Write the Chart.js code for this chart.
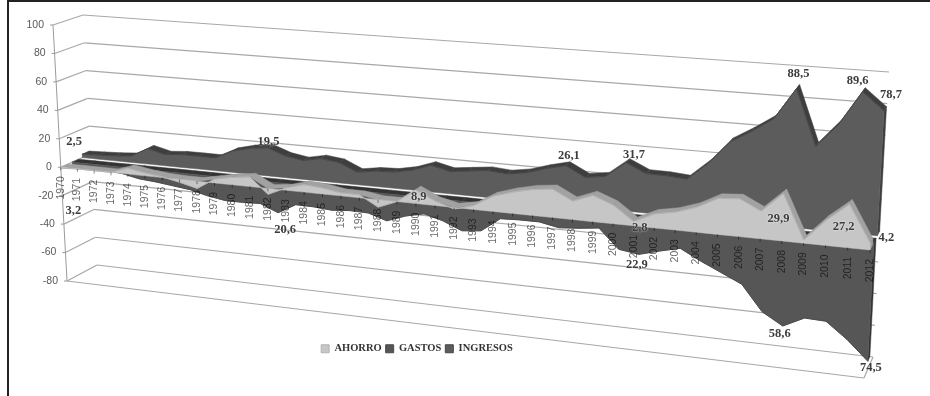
<!DOCTYPE html>
<html>
<head>
<meta charset="utf-8">
<title>Ahorro, gastos e ingresos</title>
<script src="https://cdn.jsdelivr.net/npm/chart.js@4/dist/chart.umd.min.js"></script>
<style>
    html, body { margin: 0; padding: 0; background: #fff; }
    #frame { position: absolute; left: 7px; top: 0; width: 930px; height: 400px; border-left: 2px solid #222; border-top: 2px solid #222; }
    #wrap { position: absolute; left: 0; top: 0; width: 930px; height: 396px; overflow: hidden; }
    canvas { position: absolute; left: 0; top: 0; }
</style>
</head>
<body>
<div id="wrap">
    <div id="frame"></div>
    <canvas id="areaChart" width="930" height="396"></canvas>
</div>
<script>
const years = [1970, 1971, 1972, 1973, 1974, 1975, 1976, 1977, 1978, 1979, 1980, 1981, 1982, 1983, 1984,
    1985, 1986, 1987, 1988, 1989, 1990, 1991, 1992, 1993, 1994, 1995, 1996, 1997, 1998, 1999, 2000,
    2001, 2002, 2003, 2004, 2005, 2006, 2007, 2008, 2009, 2010, 2011, 2012];
const ahorro = [-0.7, 0, 0, 0, 4, 2, 0.5, -2, -5, 2.5, 5, 6.5, -4, 1.5, 5,
    4, 2, 2, -5, 0, 8.9, 3, -1, 2.5, 10, 14, 17, 18.5, 12, 17, 12,
    2.8, 9, 11.5, 16, 23, 24, 17.5, 29.9, 2, 16, 27.2, 4.2];
const gastos = [-3.2, -3, -3.5, -4.5, -7, -8, -9.5, -11, -14, -16, -16, -15.5, -20.6, -13.8, -14,
    -15, -14, -14.3, -18.3, -13.8, -11, -14.4, -19.7, -18.4, -9, -8.5, -8.5, -11, -10, -8.5, -21,
    -22.9, -19.4, -16.2, -23, -29, -35, -51, -58.6, -52, -52.5, -62.4, -74.5];
const ingresos = [2.5, 3, 3.5, 4.5, 11, 8, 9, 9, 9, 15, 18, 19.5, 15, 13, 15.5,
    14, 8.5, 10.5, 11, 13.5, 18, 15, 16.5, 18, 17, 19, 23, 26.1, 19.5, 21.5, 31.7,
    25.7, 25.5, 24.5, 36, 51, 59, 68, 88.5, 52.7, 68, 89.6, 78.7];
const yTicks = [100, 80, 60, 40, 20, 0, -20, -40, -60, -80];

// Years that carry a value tag, per series
const ahorroTags = [1990, 2001, 2008, 2011, 2012];
const gastosTags = [1970, 1982, 2001, 2008, 2012];
const ingresosTags = [1970, 1981, 1997, 2000, 2008, 2011, 2012];

// Box corners of the plot: front wall and back wall, at the top and bottom of the value axis
const box = {
    front: {tl: [53, 25], bl: [67, 281], tr: [877.5, 90], br: [864, 378]},
    back: {tl: [83, 15], bl: [97, 265], tr: [889, 72], br: [873, 357]}
};
const foreshorten = 0.86; // years get wider towards the right end

const lerp = (a, b, t) => a + (b - a) * t;

function projectPoint(chart, px, py, depth) {
    const xs = chart.scales.x;
    const ys = chart.scales.y;
    const u0 = (px - xs.left) / xs.width;
    const u = u0 * foreshorten / ((1 - u0) + u0 * foreshorten);
    const v = (py - ys.top) / ys.height;
    const corner = key => [lerp(box.front[key][0], box.back[key][0], depth), lerp(box.front[key][1], box.back[key][1], depth)];
    const tl = corner('tl'), tr = corner('tr'), bl = corner('bl'), br = corner('br');
    const tx = lerp(tl[0], tr[0], u), ty = lerp(tl[1], tr[1], u);
    const bx = lerp(bl[0], br[0], u), by = lerp(bl[1], br[1], u);
    return {x: lerp(tx, bx, v), y: lerp(ty, by, v)};
}

function place(chart, index, value, depth) {
    return projectPoint(chart, chart.scales.x.getPixelForValue(index), chart.scales.y.getPixelForValue(value), depth);
}

function fillPolygon(ctx, points, color) {
    ctx.beginPath();
    points.forEach((p, i) => i ? ctx.lineTo(p.x, p.y) : ctx.moveTo(p.x, p.y));
    ctx.closePath();
    ctx.fillStyle = color;
    ctx.strokeStyle = color;
    ctx.lineWidth = 0.5;
    ctx.fill();
    ctx.stroke();
}

function drawLine(ctx, a, b, color, width) {
    ctx.beginPath();
    ctx.moveTo(a.x, a.y);
    ctx.lineTo(b.x, b.y);
    ctx.strokeStyle = color;
    ctx.lineWidth = width;
    ctx.stroke();
}

const perspectivePlugin = {
    id: 'perspective',

    // Moves every point the scales produced onto its series' slot in the box
    afterDatasetsUpdate(chart) {
        chart.getSortedVisibleDatasetMetas().forEach(meta => {
            const depth = chart.data.datasets[meta.index].depthRange[0];
            meta.data.forEach(point => {
                const p = projectPoint(chart, point.x, point.y, depth);
                point.x = p.x;
                point.y = p.y;
            });
        });
    },

    // Walls and floor behind the series
    beforeDatasetsDraw(chart) {
        const ctx = chart.ctx;
        const last = years.length - 1;
        ctx.save();
        yTicks.forEach(tick => {
            const frontLeft = place(chart, 0, tick, 0);
            const backLeft = place(chart, 0, tick, 1);
            const backRight = place(chart, last, tick, 1);
            drawLine(ctx, frontLeft, backLeft, '#a8a8a8', 1.2);
            drawLine(ctx, backLeft, backRight, '#a8a8a8', 1.2);
            drawLine(ctx, {x: frontLeft.x - 3, y: frontLeft.y}, frontLeft, '#9a9a9a', 1);
        });
        drawLine(ctx, place(chart, 0, -80, 0), place(chart, last, -80, 0), '#a8a8a8', 1.2);
        drawLine(ctx, place(chart, last, -80, 0), place(chart, last, -80, 1), '#a8a8a8', 1.2);
        drawLine(ctx, place(chart, 0, 100, 0), place(chart, 0, -80, 0), '#9a9a9a', 1);
        ctx.restore();
    },

    // Ribbon body of one series: top surface, right end and front face
    beforeDatasetDraw(chart, args) {
        const ctx = chart.ctx;
        const dataset = chart.data.datasets[args.index];
        const [near, far] = dataset.depthRange;
        const values = dataset.data;
        const last = values.length - 1;
        ctx.save();
        for (let i = 0; i < last; i++) {
            const a = Math.max(values[i], 0);
            const b = Math.max(values[i + 1], 0);
            fillPolygon(ctx, [place(chart, i, a, near), place(chart, i + 1, b, near),
                place(chart, i + 1, b, far), place(chart, i, a, far)], dataset.topColor);
        }
        fillPolygon(ctx, [place(chart, last, values[last], near), place(chart, last, values[last], far),
            place(chart, last, 0, far), place(chart, last, 0, near)], dataset.topColor);

        const face = args.meta.data.map(point => ({x: point.x, y: point.y}));
        for (let i = last; i >= 0; i--) {
            face.push(place(chart, i, 0, near));
        }
        fillPolygon(ctx, face, dataset.backgroundColor);
        ctx.restore();
    },

    // Axis text and value tags go on top
    afterDatasetsDraw(chart) {
        const ctx = chart.ctx;
        ctx.save();
        ctx.fillStyle = '#595959';
        ctx.font = '10.5px "Liberation Sans"';
        ctx.textBaseline = 'middle';
        ctx.textAlign = 'right';
        yTicks.forEach(tick => {
            const p = place(chart, 0, tick, 0);
            ctx.fillText(String(tick), p.x - 9, p.y);
        });
        // Year labels are multiplied so they stay readable where they cross the dark areas
        ctx.globalCompositeOperation = 'multiply';
        years.forEach((year, i) => {
            const p = place(chart, i, 0, 0);
            drawLine(ctx, p, {x: p.x, y: p.y + 3}, '#8a8a8a', 1);
            ctx.save();
            ctx.translate(p.x, p.y + 9);
            ctx.rotate(-Math.PI / 2);
            ctx.fillStyle = '#6a6a6a';
            ctx.fillText(String(year), 0, 0);
            ctx.restore();
        });
        ctx.globalCompositeOperation = 'source-over';

        ctx.font = 'bold 12.5px "Liberation Serif"';
        ctx.textAlign = 'center';
        ctx.fillStyle = '#3c3c3c';
        ctx.shadowColor = 'rgba(255,255,255,0.9)';
        ctx.shadowBlur = 2;
        chart.data.datasets.forEach((dataset, d) => {
            dataset.tagYears.forEach((year, t) => {
                const i = years.indexOf(year);
                const p = chart.getDatasetMeta(d).data[i];
                const nudge = dataset.tagNudges[t];
                const text = Math.abs(dataset.data[i]).toFixed(1).replace('.', ',');
                ctx.fillText(text, p.x + nudge[0], p.y + nudge[1]);
            });
        });
        ctx.restore();
    }
};

new Chart(document.getElementById('areaChart'), {
    type: 'line',
    plugins: [perspectivePlugin],
    data: {
        labels: years,
        datasets: [
            {
                label: 'AHORRO', data: ahorro, backgroundColor: '#c6c6c6', borderColor: '#b4b4b4', topColor: '#a2a2a2',
                depthRange: [0, 0.25], tagYears: ahorroTags,
                tagNudges: [[3, 7], [6, 6], [-5, 25], [-6, 22], [16, -6]]
            },
            {
                label: 'GASTOS', data: gastos, backgroundColor: '#565656', borderColor: '#4a4a4a', topColor: '#333333',
                depthRange: [0.38, 0.6], tagYears: gastosTags,
                tagNudges: [[1, 44], [7, 17], [-2, 10], [-3, 8], [3, 7]]
            },
            {
                label: 'INGRESOS', data: ingresos, backgroundColor: '#5c5c5c', borderColor: '#454545', topColor: '#3e3e3e',
                depthRange: [0.72, 0.95], tagYears: ingresosTags,
                tagNudges: [[-8, -12], [1, -6], [3, -10], [8, -8], [2, -15], [-5, -11], [7, -16]]
            }
        ]
    },
    options: {
        responsive: false,
        animation: false,
        clip: false,
        layout: {padding: {bottom: 32, right: 96}},
        elements: {
            line: {borderWidth: 1, tension: 0, fill: false},
            point: {radius: 0, hoverRadius: 0}
        },
        scales: {
            x: {display: false},
            y: {display: false, min: -80, max: 100}
        },
        plugins: {
            tooltip: {enabled: false},
            legend: {
                position: 'bottom',
                labels: {
                    boxWidth: 8,
                    boxHeight: 8,
                    padding: 4,
                    color: '#333333',
                    font: {family: '"Liberation Serif"', weight: 'bold', size: 10.5}
                }
            }
        }
    }
});
</script>
</body>
</html>
